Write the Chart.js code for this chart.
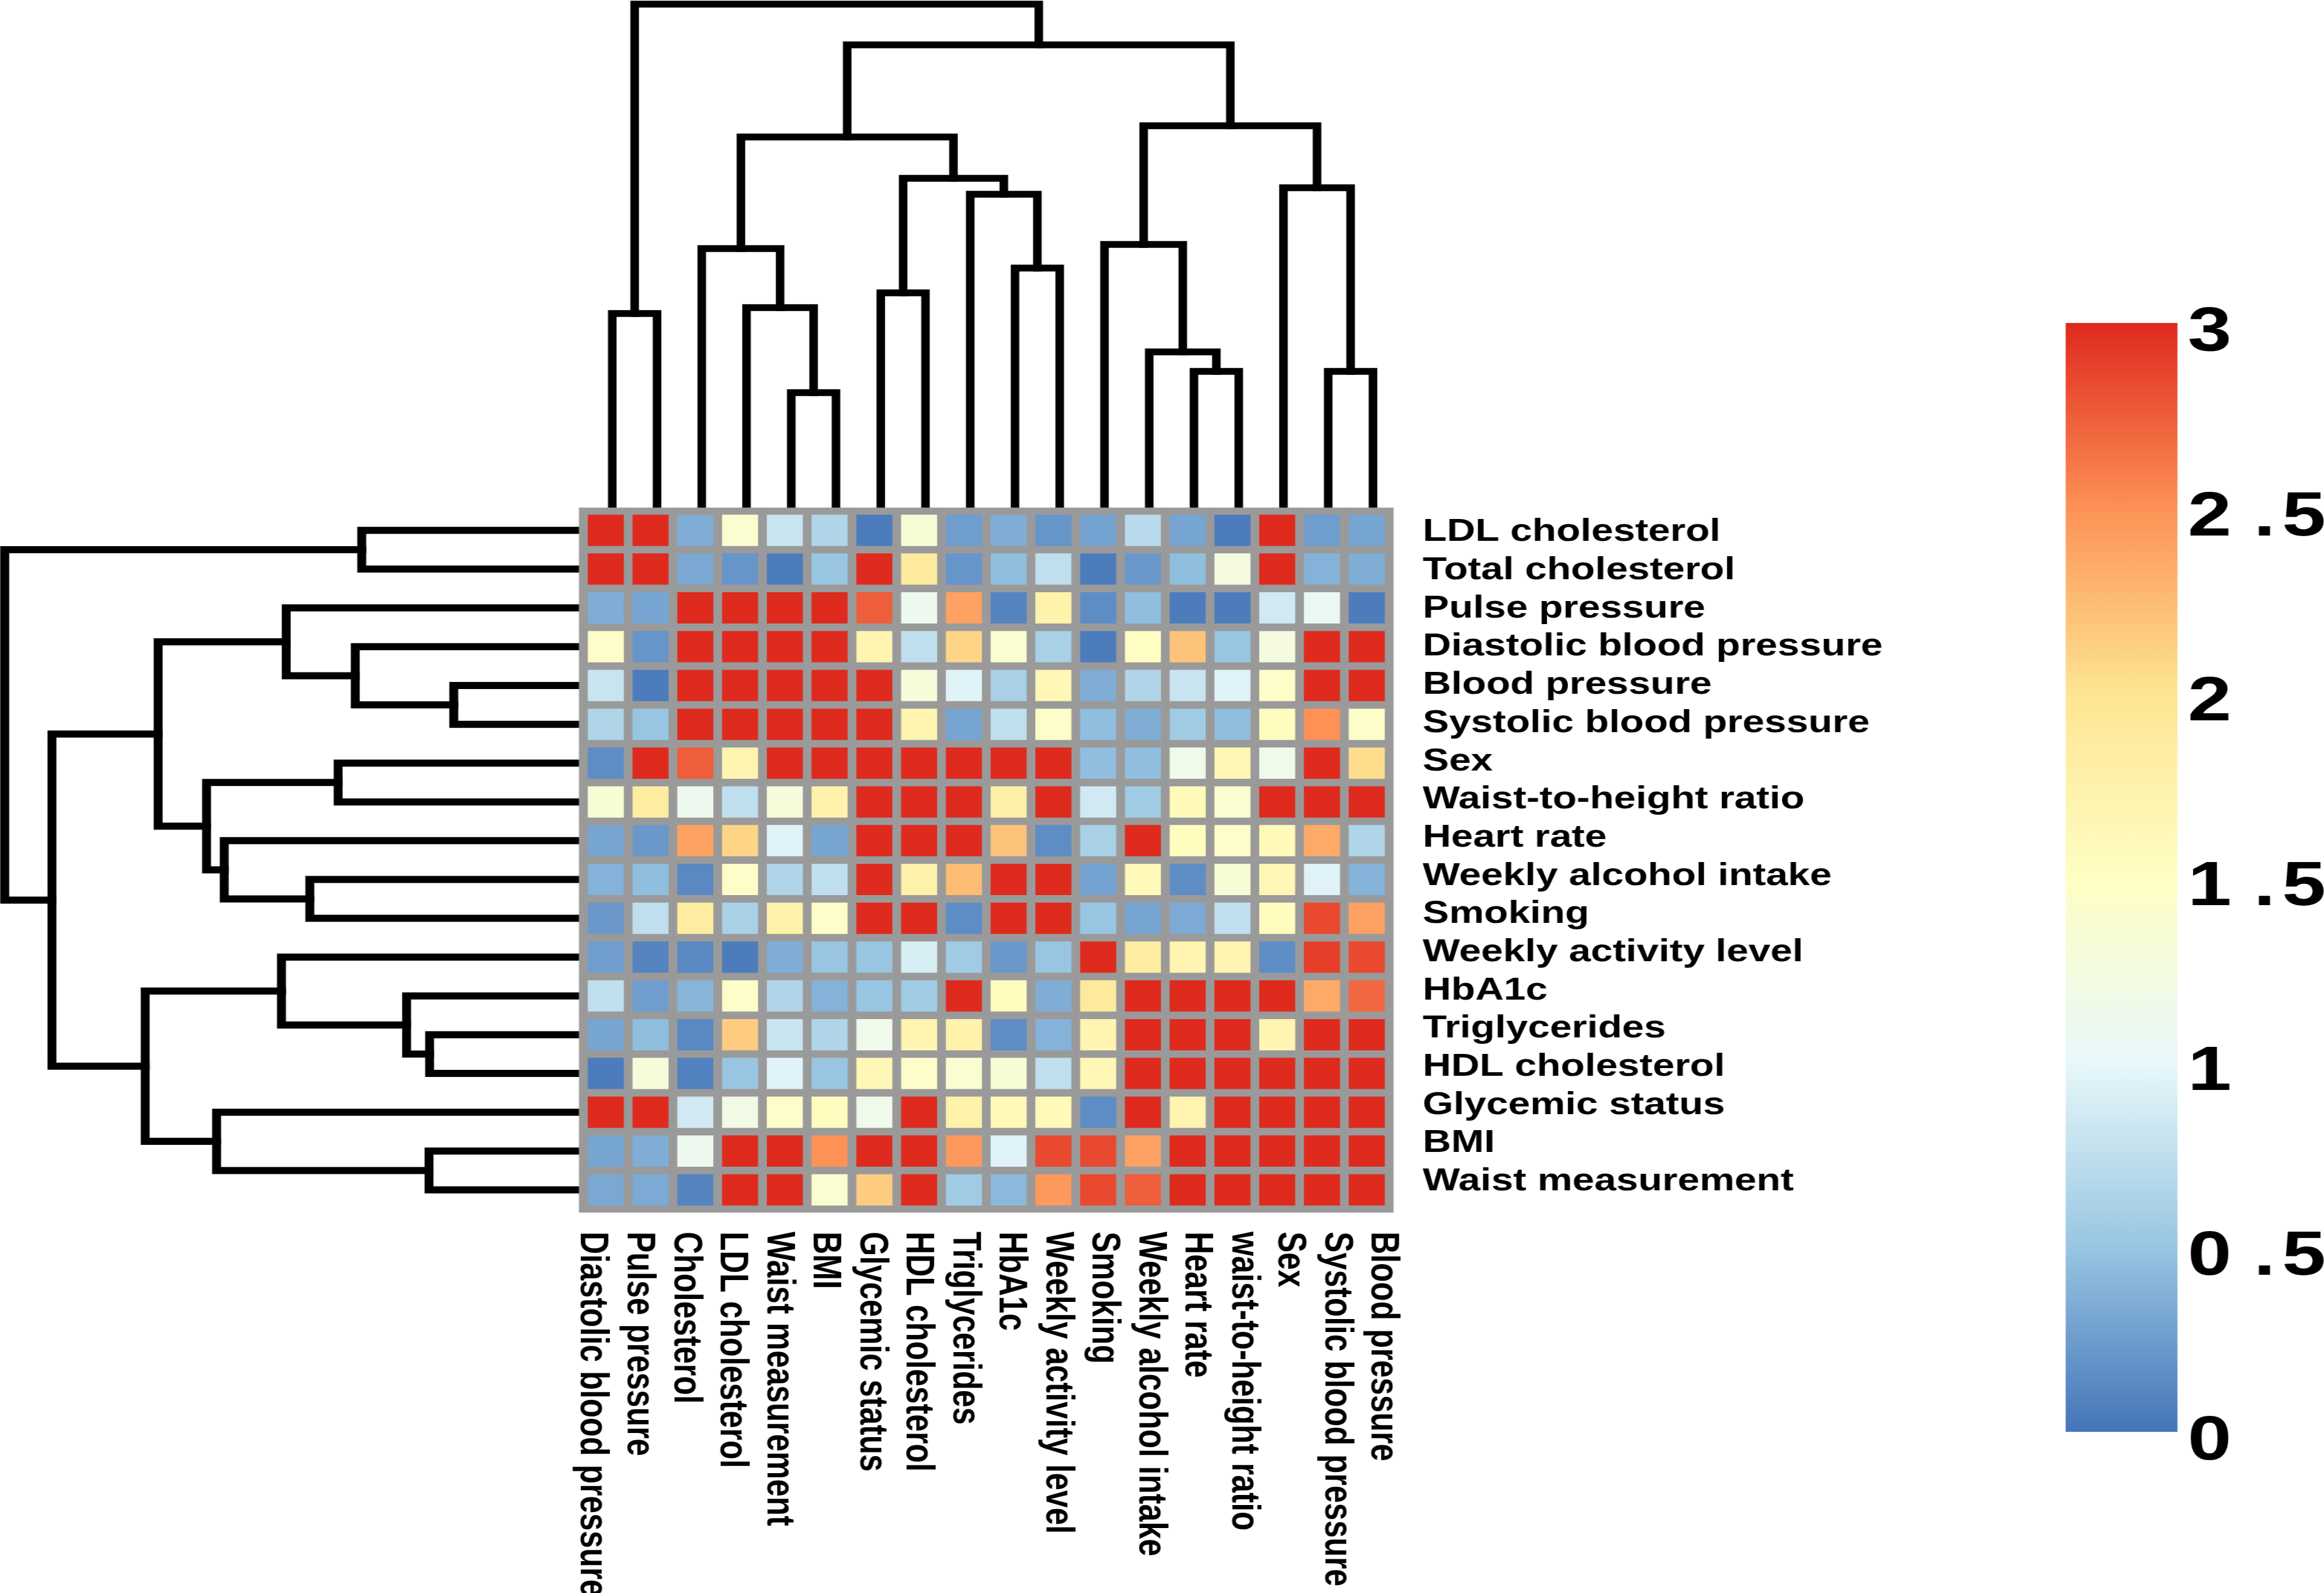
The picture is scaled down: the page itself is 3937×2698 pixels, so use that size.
<!DOCTYPE html>
<html>
<head>
<meta charset="utf-8">
<script src="https://cdn.jsdelivr.net/npm/chart.js@4.4.1/dist/chart.umd.min.js"></script>
<style>
  html, body { margin: 0; padding: 0; background: #fff; }
  body { width: 3937px; height: 2698px; position: relative; overflow: hidden; }
  canvas { position: absolute; }
</style>
</head>
<body>
<canvas id="row-tree"></canvas>
<canvas id="col-tree"></canvas>
<canvas id="heatmap"></canvas>
<canvas id="legend"></canvas>
<script>
const colLabels = ['Diastolic blood pressure', 'Pulse pressure', 'Cholesterol', 'LDL cholesterol',
  'Waist measurement', 'BMI', 'Glycemic status', 'HDL cholesterol', 'Triglycerides', 'HbA1c',
  'Weekly activity level', 'Smoking', 'Weekly alcohol intake', 'Heart rate', 'waist-to-height ratio',
  'Sex', 'Systolic blood pressure', 'Blood pressure'];

const rowLabels = ['LDL cholesterol', 'Total cholesterol', 'Pulse pressure', 'Diastolic blood pressure',
  'Blood pressure', 'Systolic blood pressure', 'Sex', 'Waist-to-height ratio', 'Heart rate',
  'Weekly alcohol intake', 'Smoking', 'Weekly activity level', 'HbA1c', 'Triglycerides',
  'HDL cholesterol', 'Glycemic status', 'BMI', 'Waist measurement'];

// one row per rowLabels entry, one value per colLabels entry
const cellValues = [
  [3, 3, 0.35, 1.4, 0.8, 0.65, 0.05, 1.35, 0.25, 0.35, 0.2, 0.28, 0.7, 0.3, 0.05, 3, 0.25, 0.3],
  [3, 3, 0.32, 0.2, 0.05, 0.5, 3, 1.9, 0.2, 0.45, 0.75, 0.05, 0.22, 0.45, 1.25, 3, 0.38, 0.35],
  [0.35, 0.3, 3, 3, 3, 3, 2.75, 1.1, 2.4, 0.1, 1.75, 0.15, 0.45, 0.05, 0.05, 0.85, 1.05, 0.05],
  [1.45, 0.2, 3, 3, 3, 3, 1.7, 0.75, 2.1, 1.4, 0.6, 0.05, 1.5, 2.2, 0.5, 1.25, 3, 3],
  [0.8, 0.05, 3, 3, 3, 3, 3, 1.3, 0.95, 0.6, 1.65, 0.35, 0.65, 0.8, 0.95, 1.45, 3, 3],
  [0.65, 0.5, 3, 3, 3, 3, 3, 1.7, 0.3, 0.75, 1.45, 0.45, 0.35, 0.55, 0.45, 1.55, 2.5, 1.45],
  [0.15, 3, 2.75, 1.7, 3, 3, 3, 3, 3, 3, 3, 0.45, 0.45, 1.15, 1.65, 1.15, 3, 2.05],
  [1.35, 1.85, 1.1, 0.75, 1.3, 1.75, 3, 3, 3, 1.8, 3, 0.85, 0.55, 1.6, 1.4, 3, 3, 3],
  [0.3, 0.22, 2.4, 2.1, 0.95, 0.3, 3, 3, 3, 2.2, 0.15, 0.6, 3, 1.55, 1.45, 1.6, 2.35, 0.65],
  [0.38, 0.45, 0.12, 1.45, 0.65, 0.75, 3, 1.75, 2.25, 3, 3, 0.28, 1.6, 0.15, 1.35, 1.65, 0.95, 0.38],
  [0.22, 0.75, 1.85, 0.6, 1.75, 1.45, 3, 3, 0.15, 3, 3, 0.5, 0.3, 0.33, 0.75, 1.55, 2.85, 2.4],
  [0.25, 0.1, 0.12, 0.05, 0.35, 0.5, 0.5, 0.9, 0.55, 0.22, 0.5, 3, 1.85, 1.7, 1.7, 0.15, 2.9, 2.85],
  [0.75, 0.25, 0.4, 1.45, 0.65, 0.38, 0.5, 0.55, 3, 1.55, 0.35, 1.9, 3, 3, 3, 3, 2.35, 2.7],
  [0.3, 0.45, 0.12, 2.15, 0.8, 0.65, 1.15, 1.7, 1.75, 0.15, 0.38, 1.7, 3, 3, 3, 1.7, 3, 3],
  [0.05, 1.3, 0.08, 0.5, 0.95, 0.5, 1.65, 1.45, 1.4, 1.35, 0.75, 1.65, 3, 3, 3, 3, 3, 3],
  [3, 3, 0.85, 1.2, 1.45, 1.55, 1.15, 3, 1.75, 1.6, 1.6, 0.15, 3, 1.7, 3, 3, 3, 3],
  [0.3, 0.35, 1.1, 3, 3, 2.5, 3, 3, 2.45, 0.95, 2.85, 2.85, 2.4, 3, 3, 3, 3, 3],
  [0.32, 0.33, 0.1, 3, 3, 1.4, 2.15, 3, 0.55, 0.42, 2.45, 2.85, 2.75, 3, 3, 3, 3, 3]
];

// hclust style merges: negative = leaf (1-based), positive = earlier merge (1-based)
const colMerge = [[-5, -6], [-14, -15], [-17, -18], [-13, 2], [-1, -2], [-4, 1], [-7, -8], [-10, -11],
  [-3, 6], [-12, 4], [-9, 8], [-16, 3], [7, 11], [9, 13], [10, 12], [14, 15], [5, 16]];
const colHeight = [1.95, 2.31, 2.31, 2.64, 3.29, 3.39, 3.64, 4.06, 4.39, 4.46, 5.31, 5.42, 5.58,
  6.28, 6.47, 7.84, 8.53];

const rowMerge = [[-5, -6], [-14, -15], [-17, -18], [-13, 2], [-1, -2], [-4, 1], [-7, -8], [-10, -11],
  [-3, 6], [-12, 4], [-9, 8], [-16, 3], [7, 11], [9, 13], [10, 12], [14, 15], [5, 16]];
const rowHeight = [2.11, 2.52, 2.53, 2.91, 3.67, 3.78, 4.07, 4.55, 4.95, 5.03, 6.0, 6.13, 6.3,
  7.12, 7.34, 8.92, 9.72];

const legendTicks = [0, 0.5, 1, 1.5, 2, 2.5, 3];
// the key's labels are set loosely, with a wide gap before the point and a hair gap after it
const legendTickLabels = ['0', '0 .\u200a5', '1', '1 .\u200a5', '2', '2 .\u200a5', '3'];

const paletteStops = [0, 0.5, 1, 1.5, 2, 2.5, 3];
const paletteColors = ['#4574b9', '#98c6e2', '#e8f8fa', '#fffec4', '#fee592', '#fd9156', '#df2a1e'];

// the original figure is stretched sideways; canvases are drawn narrow and widened by CSS
const S = 1.26;
const FONT = '"Liberation Sans", Arial, sans-serif';
const gridGrey = '#9a9a9a';

function place(id, left, top, width, height) {
  const cv = document.getElementById(id);
  cv.width = Math.round(width / S);
  cv.height = height;
  cv.style.left = left + 'px';
  cv.style.top = top + 'px';
  cv.style.width = (cv.width * S) + 'px';
  cv.style.height = height + 'px';
  return cv;
}

// area = [x0, x1, y0, y1] in page pixels
function padFor(cv, left, top, area) {
  return {
    left: (area[0] - left) / S,
    right: cv.width - (area[1] - left) / S,
    top: area[2] - top,
    bottom: cv.height - (area[3] - top)
  };
}

function hexToRgb(h) {
  const n = parseInt(h.slice(1), 16);
  return [(n >> 16) & 255, (n >> 8) & 255, n & 255];
}

function colorFor(v) {
  const last = paletteStops.length - 1;
  const t = Math.max(paletteStops[0], Math.min(v, paletteStops[last]));
  let i = 0;
  while (i < last - 1 && t > paletteStops[i + 1]) i++;
  const f = (t - paletteStops[i]) / (paletteStops[i + 1] - paletteStops[i]);
  const a = hexToRgb(paletteColors[i]);
  const b = hexToRgb(paletteColors[i + 1]);
  return `rgb(${a.map((x, k) => Math.round(x + (b[k] - x) * f)).join(',')})`;
}

function treeSegments(merge, heights) {
  const pos = [];
  const at = id => id < 0 ? { p: -id - 1, h: 0 } : { p: pos[id - 1], h: heights[id - 1] };
  return merge.map(([a, b], i) => {
    const A = at(a), B = at(b), h = heights[i];
    pos.push((A.p + B.p) / 2);
    return [{ p: A.p, h: A.h }, { p: A.p, h }, { p: B.p, h }, { p: B.p, h: B.h }];
  });
}

function lineSet(points, width) {
  return {
    data: points,
    showLine: true,
    borderColor: '#000',
    borderWidth: width,
    pointRadius: 0,
    pointHoverRadius: 0,
    borderCapStyle: 'square',
    borderJoinStyle: 'miter',
    fill: false,
    tension: 0,
    clip: false
  };
}

// keep tick labels from pushing the plot area inwards
function fixWidth(width) {
  return s => {
    s.width = width;
    s.paddingTop = 0;
    s.paddingBottom = 0;
  };
}

const baseOptions = {
  responsive: false,
  animation: false,
  devicePixelRatio: 1,
  events: [],
  plugins: { legend: { display: false }, tooltip: { enabled: false } }
};

// column dendrogram
const colTreeCanvas = place('col-tree', 950, 0, 1460, 880);
new Chart(colTreeCanvas, {
  type: 'scatter',
  data: {
    datasets: treeSegments(colMerge, colHeight)
      .map(seg => lineSet(seg.map(q => ({ x: q.p, y: q.h })), 11.5))
  },
  options: {
    ...baseOptions,
    layout: { padding: padFor(colTreeCanvas, 950, 0, [999.3, 2364.1, 0, 860]) },
    scales: {
      x: { type: 'linear', display: false, min: -0.5, max: colLabels.length - 0.5 },
      y: { type: 'linear', display: false, min: 0, max: 8.6 }
    }
  }
});

// row dendrogram
const rowTreeCanvas = place('row-tree', 0, 850, 990, 1210);
new Chart(rowTreeCanvas, {
  type: 'scatter',
  data: {
    datasets: treeSegments(rowMerge, rowHeight)
      .map(seg => lineSet(seg.map(q => ({ x: q.h, y: q.p })), 12))
  },
  options: {
    ...baseOptions,
    layout: { padding: padFor(rowTreeCanvas, 0, 850, [0, 980, 865.3, 2048.1]) },
    scales: {
      x: { type: 'linear', display: false, min: 0, max: 9.8, reverse: true },
      y: { type: 'linear', display: false, min: -0.5, max: rowLabels.length - 0.5, reverse: true }
    }
  }
});

// heatmap
const heatCanvas = place('heatmap', 960, 840, 2340, 1858);
const heatPad = padFor(heatCanvas, 960, 840, [988.3, 2353.1, 865.3, 2048.1]);
const rowLabelSpread = 0.9846;
const rowLabelShift = -0.077;
const colLabelSpread = 1.0388;

const cellFrame = {
  id: 'cellFrame',
  beforeDatasetsDraw(chart) {
    const a = chart.chartArea;
    const fx = 7.6 / S, fy = 5.6;
    const ctx = chart.ctx;
    ctx.save();
    ctx.fillStyle = gridGrey;
    ctx.fillRect(a.left - fx, a.top - fy, a.right - a.left + 2 * fx, a.bottom - a.top + 2 * fy);
    ctx.restore();
  }
};

const columnNames = {
  id: 'columnNames',
  afterDraw(chart) {
    const xs = chart.scales.x;
    const mid = (xs.left + xs.right) / 2;
    const ctx = chart.ctx;
    ctx.save();
    ctx.font = `bold 53px ${FONT}`;
    ctx.fillStyle = '#000';
    ctx.textAlign = 'left';
    ctx.textBaseline = 'middle';
    colLabels.forEach((name, i) => {
      const x = mid + (xs.getPixelForValue(i) - mid) * colLabelSpread + 1.4;
      ctx.save();
      ctx.translate(x, 2086 - 840);
      ctx.rotate(Math.PI / 2);
      ctx.fillText(name, 0, 0);
      ctx.restore();
    });
    ctx.restore();
  }
};

new Chart(heatCanvas, {
  type: 'bar',
  data: {
    labels: colLabels,
    datasets: rowLabels.map((name, r) => ({
      label: name,
      data: cellValues[r].map(() => [r, r + 1]),
      backgroundColor: cellValues[r].map(colorFor),
      borderColor: gridGrey,
      borderWidth: { left: 7.4 / S, right: 7.4 / S, top: 6.35, bottom: 6.35 },
      borderSkipped: false,
      grouped: false,
      categoryPercentage: 1,
      barPercentage: 1,
      inflateAmount: 0
    }))
  },
  options: {
    ...baseOptions,
    layout: { padding: { left: heatPad.left, top: heatPad.top, bottom: heatPad.bottom, right: 0 } },
    scales: {
      x: { type: 'category', display: false },
      y: {
        type: 'linear',
        position: 'right',
        min: 0,
        max: rowLabels.length,
        reverse: true,
        grid: { display: false, drawTicks: false },
        border: { display: false },
        afterBuildTicks: s => {
          const m = rowLabels.length / 2;
          s.ticks = rowLabels.map((_, r) => ({ value: m + (r + 0.5 - m) * rowLabelSpread + rowLabelShift }));
        },
        afterFit: fixWidth(heatPad.right),
        ticks: {
          autoSkip: false,
          padding: (2410 - 2353.1) / S,
          color: '#000',
          font: { family: FONT, size: 53, weight: 'bold' },
          callback: (v, i) => rowLabels[i]
        }
      }
    }
  },
  plugins: [cellFrame, columnNames]
});

// colour key
const legendCanvas = place('legend', 3482, 500, 455, 2000);
const legendPad = padFor(legendCanvas, 3482, 500, [3499, 3689, 547, 2425]);
const keyMin = legendTicks[0], keyMax = legendTicks[legendTicks.length - 1];

new Chart(legendCanvas, {
  type: 'bar',
  data: {
    labels: [''],
    datasets: [{
      data: [[keyMin, keyMax]],
      backgroundColor: c => {
        const chart = c.chart;
        const ys = chart.scales.y;
        const y0 = ys ? ys.getPixelForValue(keyMin) : NaN;
        const y1 = ys ? ys.getPixelForValue(keyMax) : NaN;
        if (!isFinite(y0) || !isFinite(y1) || y0 === y1) return paletteColors[0];
        const g = chart.ctx.createLinearGradient(0, y0, 0, y1);
        paletteStops.forEach((s, i) => g.addColorStop((s - keyMin) / (keyMax - keyMin), paletteColors[i]));
        return g;
      },
      borderWidth: 0,
      categoryPercentage: 1,
      barPercentage: 1,
      inflateAmount: 0
    }]
  },
  options: {
    ...baseOptions,
    layout: { padding: { left: legendPad.left, top: legendPad.top, bottom: legendPad.bottom, right: 0 } },
    scales: {
      x: { type: 'category', display: false },
      y: {
        type: 'linear',
        position: 'right',
        min: keyMin,
        max: keyMax,
        grid: { display: false, drawTicks: false },
        border: { display: false },
        afterBuildTicks: s => { s.ticks = legendTicks.map(v => ({ value: v })); },
        afterFit: fixWidth(legendPad.right),
        ticks: {
          autoSkip: false,
          padding: (3706 - 3689) / S,
          labelOffset: 18,
          color: '#000',
          font: { family: FONT, size: 106, weight: 'bold' },
          callback: (v, i) => legendTickLabels[i]
        }
      }
    }
  }
});
</script>
</body>
</html>
